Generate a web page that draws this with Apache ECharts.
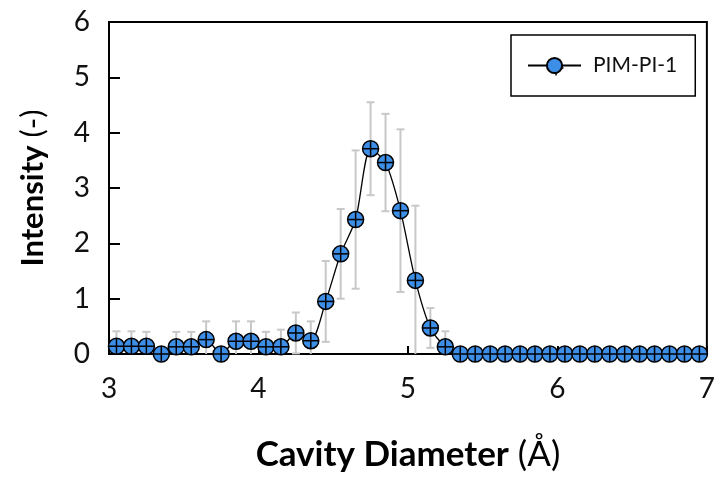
<!DOCTYPE html>
<html>
<head>
<meta charset="utf-8">
<script src="https://cdn.jsdelivr.net/npm/echarts@6/dist/echarts.min.js"></script>
<style>
  html, body { margin: 0; padding: 0; background: #fff; }
  #chart { width: 718px; height: 477px; }
</style>
</head>
<body>
<div id="chart"></div>
<script>
// Cavity size distribution of PIM-PI-1 (mean intensity with standard deviation)
const diameters = [
  3.05, 3.15, 3.25, 3.35, 3.45, 3.55, 3.65, 3.75, 3.85, 3.95,
  4.05, 4.15, 4.25, 4.35, 4.45, 4.55, 4.65, 4.75, 4.85, 4.95,
  5.05, 5.15, 5.25, 5.35, 5.45, 5.55, 5.65, 5.75, 5.85, 5.95,
  6.05, 6.15, 6.25, 6.35, 6.45, 6.55, 6.65, 6.75, 6.85, 6.95
];
const intensities = [
  0.14, 0.14, 0.14, 0.00, 0.13, 0.13, 0.26, 0.00, 0.23, 0.23,
  0.13, 0.13, 0.38, 0.24, 0.95, 1.81, 2.43, 3.71, 3.46, 2.59,
  1.33, 0.47, 0.13, 0.00, 0.00, 0.00, 0.00, 0.00, 0.00, 0.00,
  0.00, 0.00, 0.00, 0.00, 0.00, 0.00, 0.00, 0.00, 0.00, 0.00
];
const deviations = [
  0.27, 0.27, 0.26, 0.00, 0.27, 0.27, 0.33, 0.00, 0.36, 0.36,
  0.27, 0.31, 0.37, 0.35, 0.73, 0.81, 1.25, 0.84, 0.88, 1.47,
  1.35, 0.36, 0.28, 0.00, 0.00, 0.00, 0.00, 0.00, 0.00, 0.00,
  0.00, 0.00, 0.00, 0.00, 0.00, 0.00, 0.00, 0.00, 0.00, 0.00
];
const seriesName = 'PIM-PI-1';

const FONT = 'Lato, "Open Sans", sans-serif';
const MARKER_FILL = '#3d8ee6';
const MARKER_SIZE = 16;

const points = diameters.map((d, i) => [d, intensities[i]]);
const errorData = diameters.map((d, i) => [d, intensities[i], deviations[i]]);

const chart = echarts.init(document.getElementById('chart'), null, { renderer: 'canvas' });

// vertical error bar with caps; the part below the axis minimum is cut off
function renderError(params, api) {
  const x = api.value(0), v = api.value(1), e = api.value(2);
  if (!(e > 0)) return null;
  const lo = Math.max(0, v - e), hi = v + e;
  const pHi = api.coord([x, hi]);
  const pLo = api.coord([x, lo]);
  const cap = 4;
  const style = { stroke: '#c8c8c8', lineWidth: 2 };
  const children = [
    { type: 'line', shape: { x1: pHi[0], y1: pHi[1], x2: pLo[0], y2: pLo[1] }, style },
    { type: 'line', shape: { x1: pHi[0] - cap, y1: pHi[1], x2: pHi[0] + cap, y2: pHi[1] }, style }
  ];
  if (v - e > 0) {
    children.push({ type: 'line', shape: { x1: pLo[0] - cap, y1: pLo[1], x2: pLo[0] + cap, y2: pLo[1] }, style });
  }
  return { type: 'group', children };
}

// the "+" drawn across each circular marker
function renderCross(params, api) {
  const p = api.coord([api.value(0), api.value(1)]);
  const r = MARKER_SIZE / 2 - 0.5;
  const style = { stroke: '#000', lineWidth: 1.5 };
  return {
    type: 'group',
    children: [
      { type: 'line', shape: { x1: p[0] - r, y1: p[1], x2: p[0] + r, y2: p[1] }, style },
      { type: 'line', shape: { x1: p[0], y1: p[1] - r, x2: p[0], y2: p[1] + r }, style }
    ]
  };
}

const option = {
  backgroundColor: '#fff',
  animation: false,
  grid: {
    left: 109, right: 9, top: 22, bottom: 122,
    show: true, borderColor: '#000', borderWidth: 2, backgroundColor: 'transparent'
  },
  legend: {
    data: [seriesName],
    left: 511, top: 35,
    orient: 'vertical',
    padding: [20, 18, 20, 16],
    itemWidth: 53, itemHeight: 19,
    borderColor: '#000', borderWidth: 1.5, borderRadius: 0,
    textStyle: { fontFamily: FONT, fontSize: 21, color: '#111', padding: [0, 0, 0, 7] }
  },
  xAxis: {
    type: 'value', min: 3, max: 7, interval: 1,
    name: '{b|Cavity Diameter}{n| (Å)}',
    nameLocation: 'middle', nameGap: 83,
    nameTextStyle: {
      rich: {
        b: { fontFamily: FONT, fontSize: 35, fontWeight: 'bold', color: '#000' },
        n: { fontFamily: FONT, fontSize: 35, fontWeight: 'normal', color: '#000' }
      }
    },
    axisLine: { onZero: false, lineStyle: { color: '#000', width: 2 } },
    axisTick: { inside: true, length: 8, lineStyle: { color: '#000', width: 2 } },
    axisLabel: { fontFamily: FONT, fontSize: 28, color: '#111', margin: 21 },
    splitLine: { show: false }
  },
  yAxis: {
    type: 'value', min: 0, max: 6, interval: 1,
    name: '{b|Intensity}{n| (-)}',
    nameLocation: 'middle', nameGap: 61,
    nameTextStyle: {
      rich: {
        b: { fontFamily: FONT, fontSize: 31, fontWeight: 'bold', color: '#000' },
        n: { fontFamily: FONT, fontSize: 31, fontWeight: 'normal', color: '#000' }
      }
    },
    axisLine: { lineStyle: { color: '#000', width: 2 } },
    axisTick: { inside: true, length: 11, lineStyle: { color: '#000', width: 2 } },
    axisLabel: { fontFamily: FONT, fontSize: 28, color: '#111', margin: 19 },
    splitLine: { show: false }
  },
  series: [
    {
      type: 'custom',
      name: 'deviation',
      renderItem: renderError,
      data: errorData,
      encode: { x: 0, y: 1 },
      z: 1,
      silent: true
    },
    {
      type: 'line',
      name: seriesName,
      data: points,
      smooth: 0.25,
      symbol: 'circle',
      symbolSize: MARKER_SIZE,
      clip: false,
      lineStyle: { color: '#000', width: 1.3 },
      itemStyle: { color: MARKER_FILL, borderColor: '#000', borderWidth: 1.5 },
      z: 3
    },
    {
      type: 'custom',
      name: 'cross',
      renderItem: renderCross,
      data: points,
      encode: { x: 0, y: 1 },
      clip: false,
      z: 4,
      silent: true
    }
  ],
  graphic: [
    {
      // "+" on the legend marker
      type: 'group', left: 546, top: 58, z: 100,
      children: [
        { type: 'line', shape: { x1: 0, y1: 7.5, x2: 15, y2: 7.5 }, style: { stroke: '#000', lineWidth: 1.5 } },
        { type: 'line', shape: { x1: 7.5, y1: 0, x2: 7.5, y2: 15 }, style: { stroke: '#000', lineWidth: 1.5 } }
      ]
    }
  ]
};

chart.setOption(option);
</script>
</body>
</html>
